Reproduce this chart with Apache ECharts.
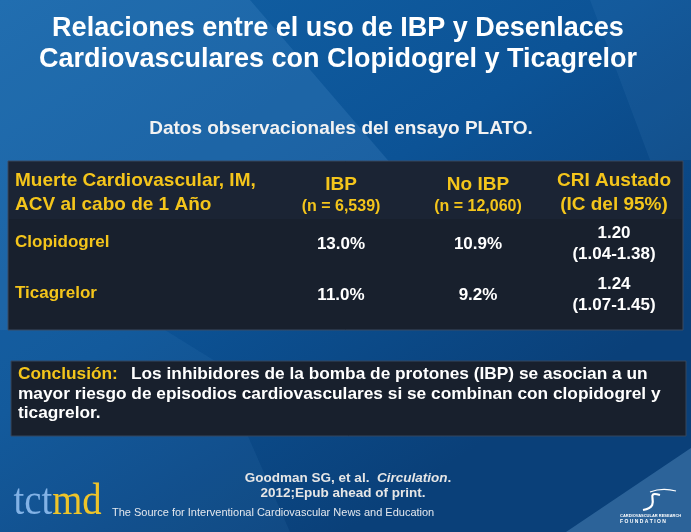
<!DOCTYPE html>
<html><head><meta charset="utf-8">
<script src="https://cdn.jsdelivr.net/npm/echarts@6/dist/echarts.min.js"></script>
<style>html,body{margin:0;padding:0;background:#0d5598}#chart{width:691px;height:532px}</style>
</head><body><div id="chart"></div>
<script>
// ---------- data ----------
const titleLines = ['Relaciones entre el uso de IBP y Desenlaces', 'Cardiovasculares con Clopidogrel y Ticagrelor'];
const subtitle = 'Datos observacionales del ensayo PLATO.';
const headerOutcome = ['Muerte Cardiovascular, IM,', 'ACV al cabo de 1 Año'];
const columnHeaders = ['IBP', 'No IBP', 'CRI Austado'];
const columnSubHeaders = ['(n = 6,539)', '(n = 12,060)', '(IC del 95%)'];
const drugs = ['Clopidogrel', 'Ticagrelor'];
const ibpRates = [13.0, 11.0];
const noIbpRates = [10.9, 9.2];
const hazardRatios = [1.20, 1.24];
const ciLower = [1.04, 1.07];
const ciUpper = [1.38, 1.45];
const conclusionLabel = 'Conclusión:';
const conclusionLines = [
  'Los inhibidores de la bomba de protones (IBP) se asocian a un',
  'mayor riesgo de episodios cardiovasculares si se combinan con clopidogrel y',
  'ticagrelor.'
];
const citationAuthors = 'Goodman SG, et al.  ';
const citationJournal = 'Circulation';
const citationDetail = '2012;Epub ahead of print.';
const brandLeft = 'tct';
const brandRight = 'md';
const brandTagline = 'The Source for Interventional Cardiovascular News and Education';
const foundationLines = ['CARDIOVASCULAR RESEARCH', 'F O U N D A T I O N'];

// ---------- layout / style ----------
const FONT = '"Liberation Sans", Arial, sans-serif';
const YELLOW = '#f4c51b';
const WHITE = '#ffffff';
const colX = [341, 478, 614];
const rowY = [244, 295];
const TABLE = {x: 8, y: 161, w: 675, h: 169, headH: 57};
const CONC = {x: 11, y: 361, w: 675, h: 75};

function txt(x, y, text, o) {
  o = o || {};
  return {
    type: 'text', x: x, y: y, z: o.z || 10,
    style: {
      text: text,
      fill: o.color || WHITE,
      font: (o.italic ? 'italic ' : '') + (o.weight || 'bold') + ' ' + (o.size || 17) + 'px ' + (o.family || FONT),
      textAlign: o.align || 'left',
      textVerticalAlign: 'middle',
      shadowColor: o.shadow ? 'rgba(0,0,0,0.75)' : 'transparent',
      shadowBlur: o.shadow ? 2 : 0,
      shadowOffsetX: o.shadow ? 2 : 0,
      shadowOffsetY: o.shadow ? 2 : 0
    }
  };
}

const g = [];
// background
g.push({type: 'rect', z: 0, shape: {x: 0, y: 0, width: 691, height: 532},
  style: {fill: new echarts.graphic.LinearGradient(0, 0, 0.5, 1, [
    {offset: 0, color: '#1262a6'}, {offset: 0.55, color: '#0c5396'}, {offset: 1, color: '#0a4079'}])}});
g.push({type: 'polygon', z: 1, shape: {points: [[0, 0], [250, 0], [392, 165], [392, 330], [0, 330]]},
  style: {fill: 'rgba(120,180,235,0.15)'}});
g.push({type: 'polygon', z: 1, shape: {points: [[0, 330], [165, 330], [215, 361], [290, 532], [0, 532]]},
  style: {fill: 'rgba(120,180,235,0.07)'}});
g.push({type: 'polygon', z: 1, shape: {points: [[590, 0], [691, 0], [691, 160], [650, 160]]},
  style: {fill: 'rgba(120,180,235,0.08)'}});
g.push({type: 'polygon', z: 1, shape: {points: [[566, 532], [691, 448], [691, 532]]},
  style: {fill: 'rgba(110,165,215,0.35)'}});

// title
titleLines.forEach((t, i) => g.push(txt(338, [29, 60][i], t, {size: 27, shadow: true, align: 'center'})));
g.push(txt(341, 129, subtitle, {size: 19, shadow: true, align: 'center', color: '#f2f2f2'}));

// table
g.push({type: 'rect', z: 5, shape: {x: TABLE.x, y: TABLE.y, width: TABLE.w, height: TABLE.h},
  style: {fill: '#18202d', stroke: '#3a4b63', lineWidth: 1}});
g.push({type: 'rect', z: 6, shape: {x: TABLE.x + 1, y: TABLE.y + 1, width: TABLE.w - 2, height: TABLE.headH},
  style: {fill: '#1b2434'}});
headerOutcome.forEach((t, i) => g.push(txt(15, [181, 204.5][i], t, {size: 19, color: YELLOW})));
columnHeaders.forEach((t, i) => g.push(txt(colX[i], i === 2 ? 181 : 185, t, {size: 19, color: YELLOW, align: 'center'})));
columnSubHeaders.forEach((t, i) => g.push(txt(colX[i], i === 2 ? 204.5 : 206.5, t, {size: i === 2 ? 19 : 16, color: YELLOW, align: 'center'})));
drugs.forEach((d, i) => {
  g.push(txt(15, rowY[i] - 1.5, d, {color: YELLOW}));
  g.push(txt(colX[0], rowY[i], ibpRates[i].toFixed(1) + '%', {align: 'center'}));
  g.push(txt(colX[1], rowY[i], noIbpRates[i].toFixed(1) + '%', {align: 'center'}));
  g.push(txt(colX[2], rowY[i] - 11, hazardRatios[i].toFixed(2), {align: 'center'}));
  g.push(txt(colX[2], rowY[i] + 10.5, '(' + ciLower[i].toFixed(2) + '-' + ciUpper[i].toFixed(2) + ')', {align: 'center'}));
});

// conclusion
g.push({type: 'rect', z: 5, shape: {x: CONC.x, y: CONC.y, width: CONC.w, height: CONC.h},
  style: {fill: '#18202d', stroke: '#34465e', lineWidth: 1}});
g.push(txt(18, 374, conclusionLabel, {color: YELLOW, size: 17.3}));
g.push(txt(131, 374, conclusionLines[0], {size: 17.3}));
g.push(txt(18, 394, conclusionLines[1], {size: 17.3}));
g.push(txt(18, 413, conclusionLines[2], {size: 17.3}));

// citation
g.push({type: 'text', x: 348, y: 478, z: 10, style: {
  text: '{a|' + citationAuthors + '}{b|' + citationJournal + '}{a|.}',
  textAlign: 'center', textVerticalAlign: 'middle',
  rich: {a: {font: 'bold 13.5px ' + FONT, fill: '#e6e6e6'}, b: {font: 'italic bold 13.5px ' + FONT, fill: '#e6e6e6'}}}});
g.push(txt(343, 493, citationDetail, {size: 13.5, color: '#e6e6e6', align: 'center'}));

// brand
g.push({type: 'text', x: 12, y: 524, z: 10, scaleX: 0.88, originX: 12, style: {
  text: '{a|' + brandLeft + '}{b|' + brandRight + '}', textVerticalAlign: 'bottom',
  rich: {a: {font: '44px "Liberation Serif", serif', fill: '#82b2e6'}, b: {font: '44px "Liberation Serif", serif', fill: '#eec42a'}}}});
g.push(txt(112, 513, brandTagline, {size: 11, weight: 'normal', color: '#e4e8ee'}));

// foundation logo
g.push({type: 'bezierCurve', z: 10, shape: {x1: 660, y1: 495, cpx1: 642, cpy1: 490, cpx2: 664, cpy2: 506, x2: 643, y2: 510},
  style: {stroke: '#ffffff', lineWidth: 2.2, fill: null}});
g.push({type: 'bezierCurve', z: 10, shape: {x1: 650, y1: 492, cpx1: 658, cpy1: 489, cpx2: 668, cpy2: 489, x2: 676, y2: 491},
  style: {stroke: '#ffffff', lineWidth: 1.2, fill: null}});
g.push(txt(620, 516, foundationLines[0], {size: 4, color: '#ffffff'}));
g.push(txt(620, 522, foundationLines[1], {size: 5, color: '#ffffff'}));

const chart = echarts.init(document.getElementById('chart'), null, {renderer: 'canvas'});
chart.setOption({animation: false, graphic: {elements: g}});
</script>
</body></html>
